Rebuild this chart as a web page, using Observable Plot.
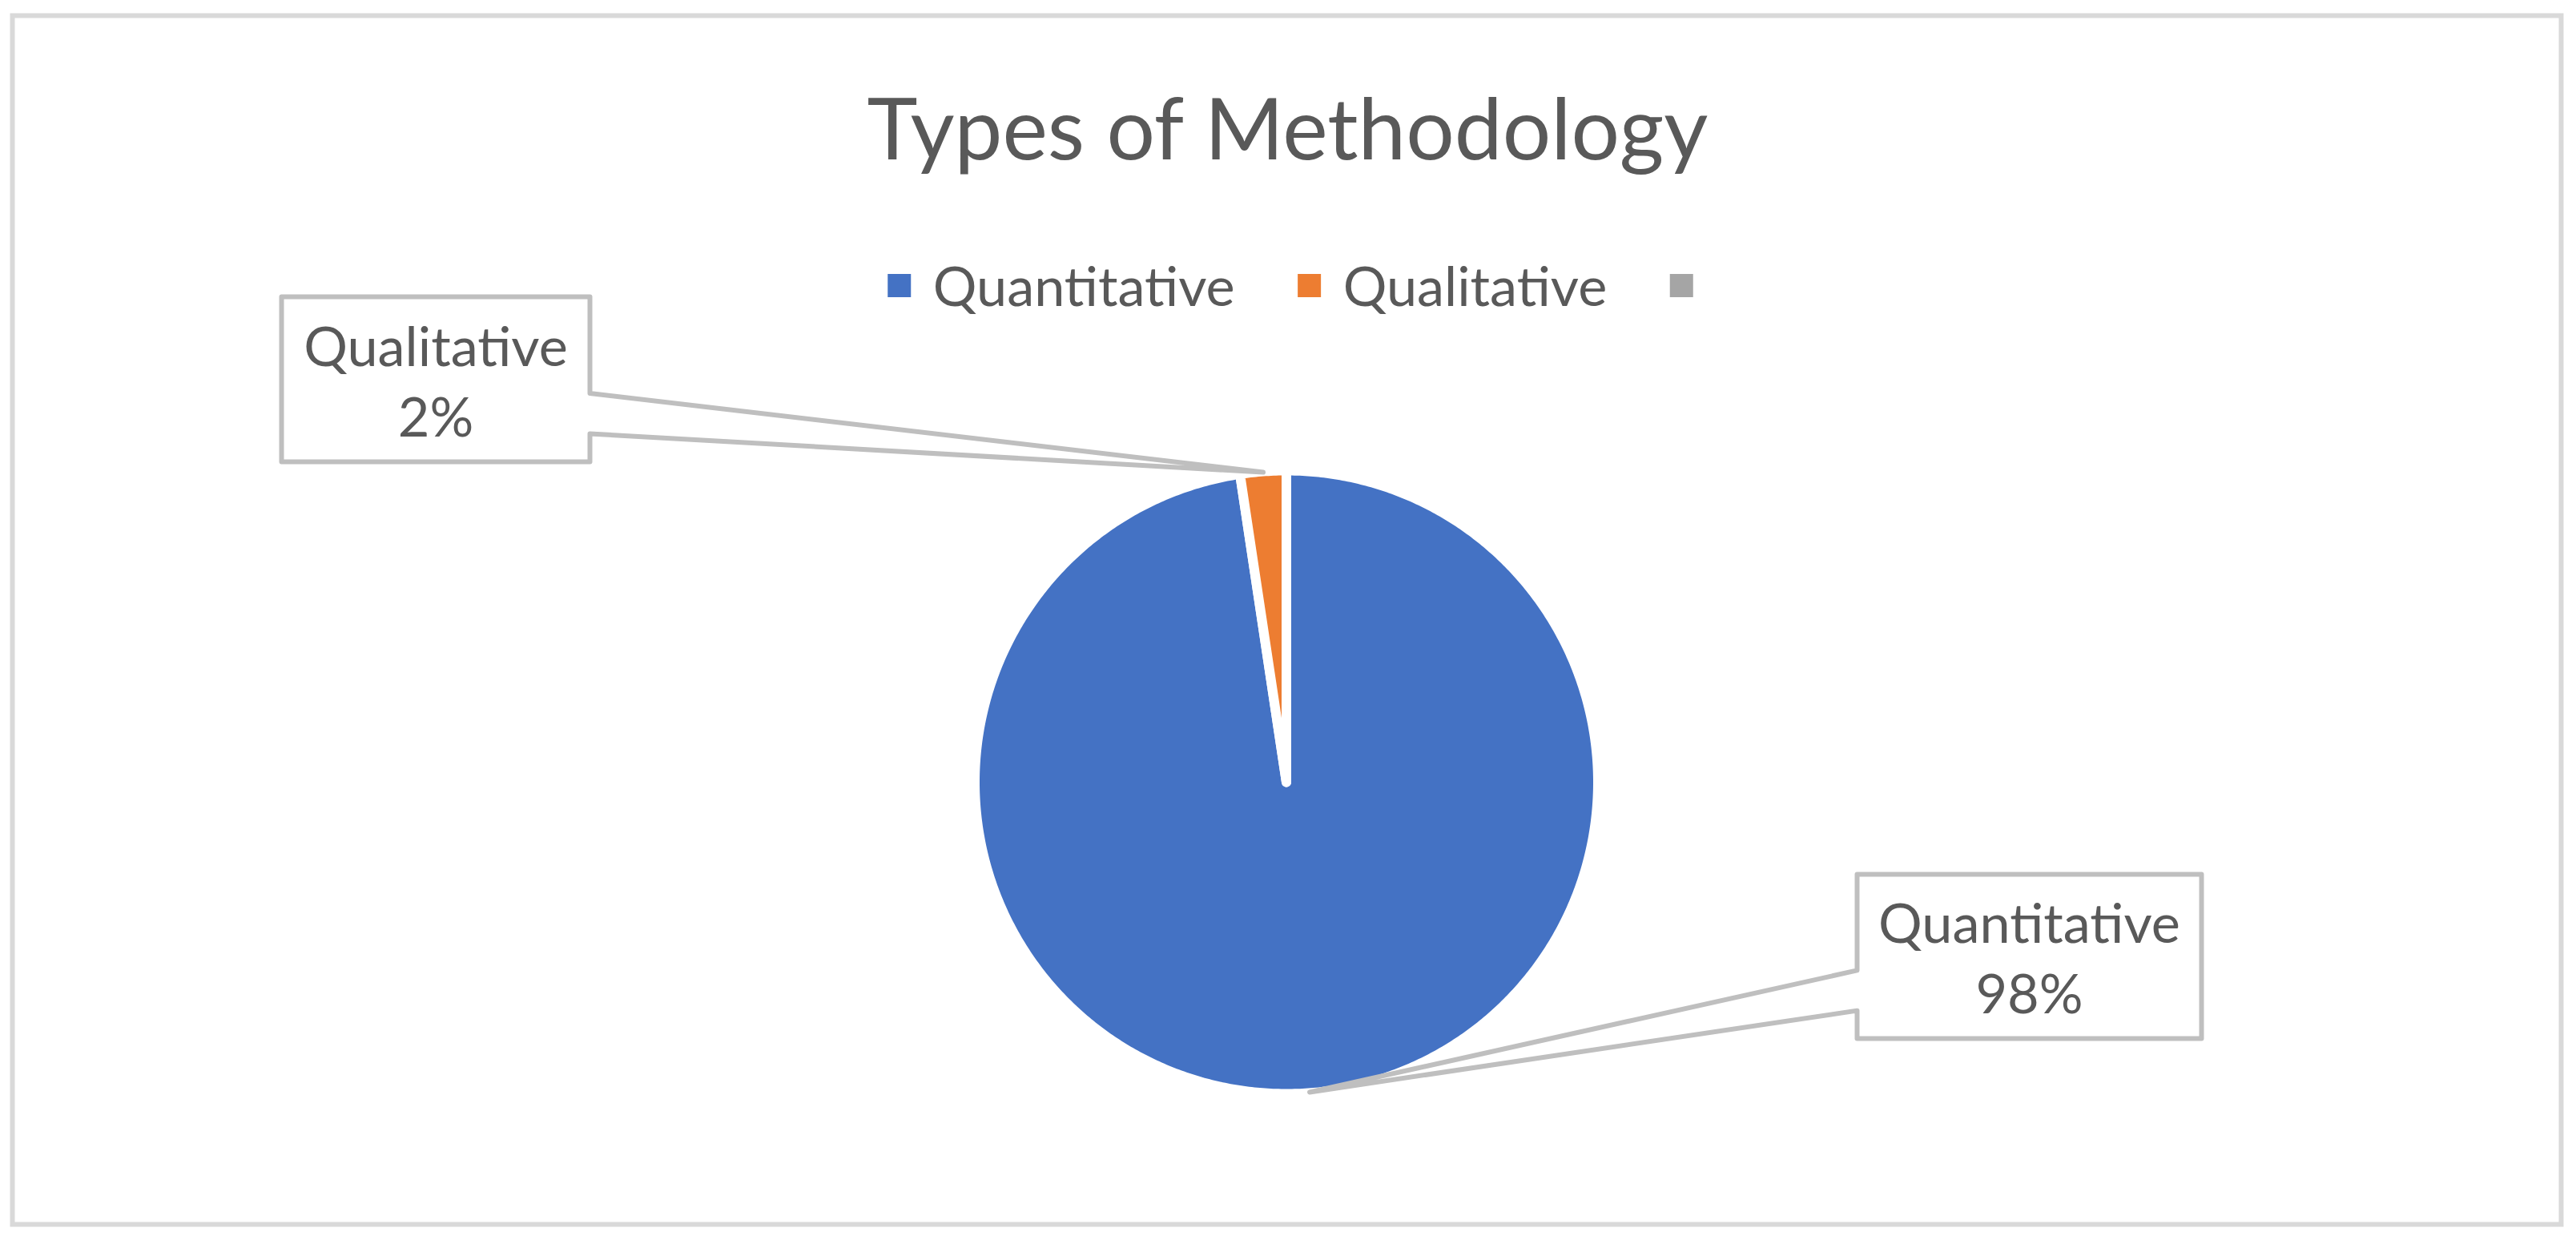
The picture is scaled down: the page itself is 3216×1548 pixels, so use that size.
<!DOCTYPE html>
<html>
<head>
<meta charset="utf-8">
<script src="https://cdn.jsdelivr.net/npm/d3@7"></script>
<script src="https://cdn.jsdelivr.net/npm/@observablehq/plot@0.6"></script>
<style>
  html, body { margin: 0; padding: 0; background: #ffffff; }
</style>
</head>
<body>
<div id="chart"></div>
<script>
// ---------------- data ----------------
const chartTitle = "Types of Methodology";
const categories = ["Quantitative", "Qualitative", ""];
const counts = [41, 1, 0];
const sliceColors = ["#4472C4", "#ED7D31", "#A5A5A5"];

// ---------------- layout / style ----------------
const W = 3216, H = 1548;
const FONT = "Lato";
const TEXT_COLOR = "#595959";
const LINE_COLOR = "#BFBFBF";
const pieLayout = { cx: 1605.5, cy: 976, visibleR: 383, separator: 12 };
const titleLayout = { x: 1607, baseline: 198, width: 1052 };
const legendLayout = { centerX: 1611, centerY: 356.5, baseline: 381, side: 29, gapIn: 27, gapOut: 79 };
const labelTargetWidth = 377; // width of "Quantitative" at label size
// callout boxes (stroke-centred rectangles) per category
const calloutBoxes = {
  "Qualitative": { x1: 351, y1: 370, x2: 736, y2: 576 },
  "Quantitative": { x1: 2318, y1: 1091, x2: 2748, y2: 1296 }
};

// ---------------- helpers ----------------
const ctx = document.createElement("canvas").getContext("2d");
function textWidth(text, size) { ctx.font = `${size}px ${FONT}`; return ctx.measureText(text).width; }
function fitSize(text, width) { return 100 * width / textWidth(text, 100); }

const labelSize = fitSize("Quantitative", labelTargetWidth);
const titleSize = fitSize(chartTitle, titleLayout.width);

const data = categories.map((c, i) => ({ category: c, count: counts[i], color: sliceColors[i] }));
const total = d3.sum(counts);
const pct = d3.format(".0%");
const arcs = d3.pie().sort(null).value(d => d.count)(data);

const R = pieLayout.visibleR + pieLayout.separator / 2;
const px = (a, r) => pieLayout.cx + r * Math.sin(a);
const py = (a, r) => pieLayout.cy - r * Math.cos(a);

// slice polygons
const slices = arcs.filter(a => a.data.count > 0).map(a => {
  const n = Math.max(2, Math.ceil((a.endAngle - a.startAngle) / (Math.PI / 360)));
  const pts = [{ x: pieLayout.cx, y: pieLayout.cy }];
  for (let k = 0; k <= n; k++) {
    const t = a.startAngle + (a.endAngle - a.startAngle) * k / n;
    pts.push({ x: px(t, R), y: py(t, R) });
  }
  pts.push({ x: pieLayout.cx, y: pieLayout.cy });
  return { color: a.data.color, pts };
});

// callouts
const callouts = arcs.filter(a => calloutBoxes[a.data.category]).map(a => {
  const b = calloutBoxes[a.data.category];
  const mid = (a.startAngle + a.endAngle) / 2;
  const tip = { x: px(mid, pieLayout.visibleR + 5), y: py(mid, pieLayout.visibleR + 5) };
  const h = b.y2 - b.y1;
  const jA = b.y1 + 0.585 * h, jB = b.y1 + 0.83 * h;
  const rightSide = tip.x > b.x2;
  let pts;
  if (rightSide) {
    pts = [[b.x1, b.y1], [b.x2, b.y1], [b.x2, jA], [tip.x, tip.y], [b.x2, jB], [b.x2, b.y2], [b.x1, b.y2], [b.x1, b.y1]];
  } else {
    pts = [[b.x1, b.y1], [b.x2, b.y1], [b.x2, b.y2], [b.x1, b.y2], [b.x1, jB], [tip.x, tip.y], [b.x1, jA], [b.x1, b.y1]];
  }
  const cyb = (b.y1 + b.y2) / 2;
  return {
    pts: pts.map(([x, y]) => ({ x, y })),
    cx: (b.x1 + b.x2) / 2,
    line1: { text: a.data.category, y: cyb - 17 },
    line2: { text: pct(a.data.count / total), y: cyb + 71 }
  };
});

// legend items
const legendItems = (() => {
  const items = data.map(d => ({ ...d, tw: d.category ? textWidth(d.category, labelSize) : 0 }));
  const widths = items.map(d => legendLayout.side + (d.tw ? legendLayout.gapIn + d.tw : 0));
  const totalW = d3.sum(widths) + legendLayout.gapOut * (items.length - 1);
  let x = legendLayout.centerX - totalW / 2;
  return items.map((d, i) => {
    const o = { ...d, x1: x, x2: x + legendLayout.side, tx: x + legendLayout.side + legendLayout.gapIn };
    x += widths[i] + legendLayout.gapOut;
    return o;
  });
})();

// ---------------- plot ----------------
const marks = [
  Plot.frame({ stroke: "#D9D9D9", strokeWidth: 6, insetLeft: 15, insetTop: 19, insetRight: 19, insetBottom: 20 }),
  Plot.text([chartTitle], {
    x: titleLayout.x, y: titleLayout.baseline, text: d => d, textAnchor: "middle", lineAnchor: "bottom",
    fontSize: titleSize, fontFamily: FONT, fill: TEXT_COLOR
  }),
  Plot.rect(legendItems, {
    x1: "x1", x2: "x2",
    y1: () => legendLayout.centerY - legendLayout.side / 2, y2: () => legendLayout.centerY + legendLayout.side / 2,
    fill: d => d.color
  }),
  Plot.text(legendItems.filter(d => d.category), {
    x: "tx", y: () => legendLayout.baseline, text: "category", textAnchor: "start", lineAnchor: "bottom",
    fontSize: labelSize, fontFamily: FONT, fill: TEXT_COLOR
  })
];
for (const s of slices) {
  marks.push(Plot.line(s.pts, {
    x: "x", y: "y", fill: s.color, stroke: "#FFFFFF", strokeWidth: pieLayout.separator,
    strokeLinejoin: "round", strokeLinecap: "round"
  }));
}
for (const c of callouts) {
  marks.push(Plot.line(c.pts, {
    x: "x", y: "y", fill: "#FFFFFF", stroke: LINE_COLOR, strokeWidth: 6, strokeLinejoin: "round"
  }));
  marks.push(Plot.text([c.line1, c.line2], {
    x: () => c.cx, y: "y", text: "text", textAnchor: "middle", lineAnchor: "bottom",
    fontSize: labelSize, fontFamily: FONT, fill: TEXT_COLOR
  }));
}

const chart = Plot.plot({
  width: W, height: H,
  marginTop: 0, marginRight: 0, marginBottom: 0, marginLeft: 0,
  x: { type: "linear", domain: [0, W], range: [0, W], axis: null },
  y: { type: "linear", domain: [0, H], range: [0, H], axis: null },
  style: { background: "#FFFFFF", fontFamily: FONT, overflow: "visible" },
  marks
});
document.getElementById("chart").appendChild(chart);
</script>
</body>
</html>
